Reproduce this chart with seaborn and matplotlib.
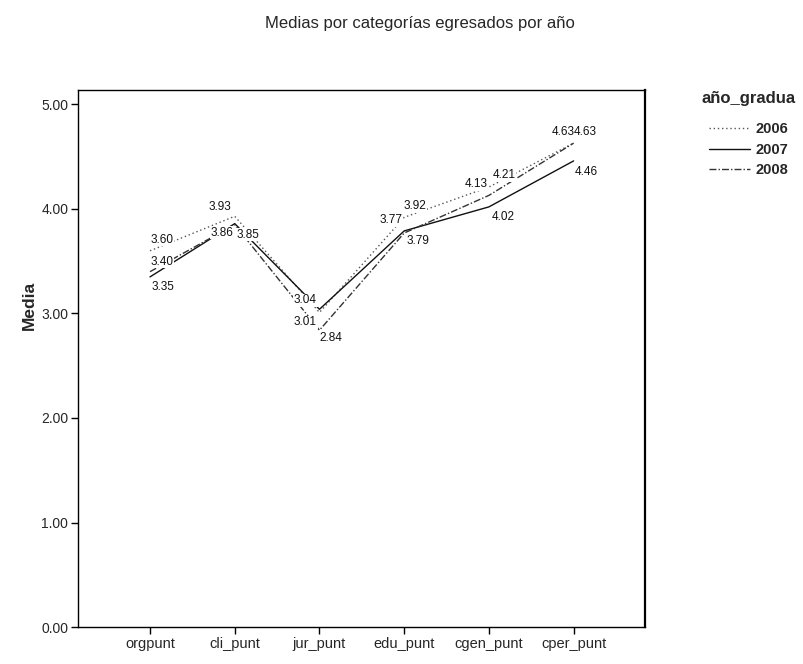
import matplotlib
matplotlib.use("Agg")
import matplotlib.pyplot as plt
import seaborn as sns
import pandas as pd

# Mean score per category, by graduation year
categorias = ["orgpunt", "cli_punt", "jur_punt", "edu_punt", "cgen_punt", "cper_punt"]
anios = ["2006", "2007", "2008"]
medias_2006 = [3.60, 3.93, 3.01, 3.92, 4.21, 4.63]
medias_2007 = [3.35, 3.86, 3.04, 3.79, 4.02, 4.46]
medias_2008 = [3.40, 3.85, 2.84, 3.77, 4.13, 4.63]
y_ticks = [0.0, 1.0, 2.0, 3.0, 4.0, 5.0]

series = {"2006": medias_2006, "2007": medias_2007, "2008": medias_2008}

rows = []
for anio in anios:
    for i, cat in enumerate(categorias):
        rows.append({"categoria": cat, "pos": i, "año_gradua": anio, "Media": series[anio][i]})
df = pd.DataFrame(rows)

# value-label offsets (pixels) so the labels sit beside each point
label_offsets = {
    "2006": [(12, 11), (-15, 9), (-14, -10), (11, 11), (15, 12), (-10, 11)],
    "2007": [(13, -10), (-13, -9), (-14, 9), (14, -10), (14, -10), (13, -11)],
    "2008": [(12, 10), (13, -10), (11, -8), (-13, 13), (-13, 11), (12, 11)],
}

sns.set_theme(style="white")
plt.rcParams["font.family"] = ["Liberation Sans", "DejaVu Sans"]

fig = plt.figure(figsize=(8.04, 6.64), dpi=100)
ax = fig.add_axes([0.097, 0.0557, 0.705, 0.809])

palette = {"2006": "#555555", "2007": "#111111", "2008": "#333333"}
dashes = {"2006": (1, 2), "2007": "", "2008": (5, 1.5, 1, 1.5)}

sns.lineplot(data=df, x="pos", y="Media", hue="año_gradua", style="año_gradua",
             palette=palette, dashes=dashes, linewidth=1.0, ax=ax, legend=True)

for anio in anios:
    for i, v in enumerate(series[anio]):
        dx, dy = label_offsets[anio][i]
        ax.annotate(f"{v:.2f}", xy=(i, v), xytext=(dx, dy), textcoords="offset pixels",
                    ha="center", va="center", fontsize=8.5, color="#111111",
                    bbox=dict(boxstyle="square,pad=0.05", fc="white", ec="none"))

ax.set_xlim(-0.85, 5.84)
ax.set_ylim(0, 5.14)
ax.set_xticks(range(len(categorias)))
ax.set_xticklabels(categorias, fontsize=10.5)
ax.set_yticks(y_ticks)
ax.set_yticklabels([f"{t:.2f}" for t in y_ticks], fontsize=10)
ax.tick_params(axis="both", direction="out", length=5, width=1, color="black",
               bottom=True, left=True, pad=2)
ax.set_xlabel("")
ax.set_ylabel("")
for s in ax.spines.values():
    s.set_color("black")
    s.set_linewidth(1.0)
ax.spines["right"].set_linewidth(1.6)

fig.text(0.522, 0.965, "Medias por categorías egresados por año", ha="center", va="center",
         fontsize=12)
fig.text(0.037, 0.54, "Media", rotation=90, ha="center", va="center", fontsize=12.5,
         fontweight="bold")

handles, labels = ax.get_legend_handles_labels()
leg = ax.legend(handles, labels, title="año_gradua", loc="upper left",
                bbox_to_anchor=(0.856, 0.883), bbox_transform=fig.transFigure,
                frameon=False, fontsize=10.5, title_fontsize=12,
                handlelength=2.8, handletextpad=0.4, labelspacing=0.42)
leg.get_title().set_fontweight("bold")
for t in leg.get_texts():
    t.set_fontweight("bold")
# extra gap between the legend title and its entries
leg._legend_box.sep = 12

fig.savefig("out.png", dpi=100, facecolor="white")
